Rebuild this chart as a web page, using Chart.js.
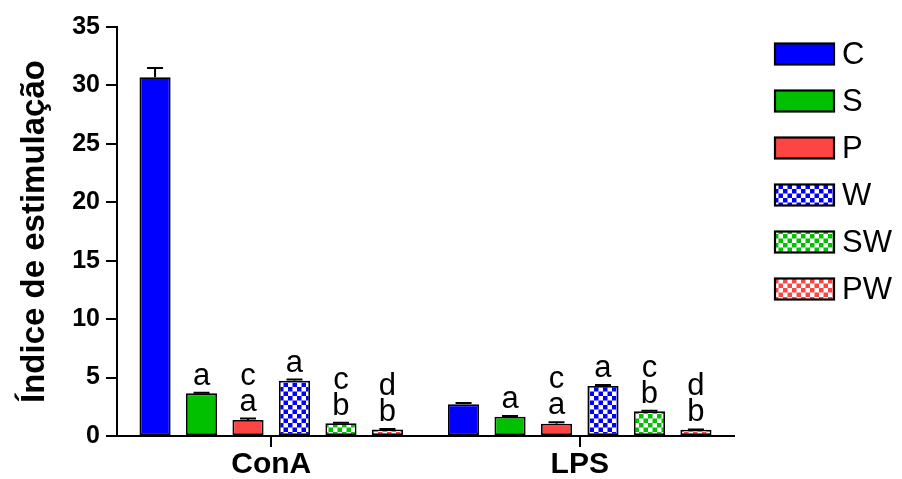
<!DOCTYPE html>
<html>
<head>
<meta charset="utf-8">
<script src="https://cdn.jsdelivr.net/npm/chart.js@4"></script>
<style>
  html, body { margin: 0; padding: 0; background: #fff; }
  #wrap { width: 902px; height: 479px; position: relative; }
</style>
</head>
<body>
<div id="wrap"><canvas id="chart"></canvas></div>
<script>
// Data
const groups = ["ConA", "LPS"];
const seriesNames = ["C", "S", "P", "W", "SW", "PW"];
const valuesC = [30.7, 2.71];
const valuesS = [3.65, 1.65];
const valuesP = [1.37, 1.05];
const valuesW = [4.73, 4.28];
const valuesSW = [1.09, 2.11];
const valuesPW = [0.56, 0.53];
const errC = [0.8, 0.12];
const errS = [0.05, 0.06];
const errP = [0.12, 0.13];
const errW = [0.1, 0.08];
const errSW = [0.04, 0.05];
const errPW = [0.03, 0.03];
// significance letters, top line first
const lettersC = [[], []];
const lettersS = [["a"], ["a"]];
const lettersP = [["c", "a"], ["c", "a"]];
const lettersW = [["a"], ["a"]];
const lettersSW = [["c", "b"], ["c", "b"]];
const lettersPW = [["d", "b"], ["d", "b"]];
const yTicks = [0, 5, 10, 15, 20, 25, 30, 35];

const FONT = "'Liberation Sans', Arial, Helvetica, sans-serif";
const BLUE = "#0000ff", GREEN = "#00c000", RED = "#ff4444";

// checkerboard fill
function checker(color) {
  const c = document.createElement("canvas");
  c.width = 9; c.height = 9;
  const g = c.getContext("2d");
  g.fillStyle = "#fff";
  g.fillRect(0, 0, 9, 9);
  g.fillStyle = color;
  g.fillRect(0, 0, 4.5, 4.5);
  g.fillRect(4.5, 4.5, 4.5, 4.5);
  return g.createPattern(c, "repeat");
}

const fills = [BLUE, GREEN, RED, checker(BLUE), checker(GREEN), checker(RED)];
const allValues = [valuesC, valuesS, valuesP, valuesW, valuesSW, valuesPW];
const allErrors = [errC, errS, errP, errW, errSW, errPW];
const allLetters = [lettersC, lettersS, lettersP, lettersW, lettersSW, lettersPW];

const datasets = seriesNames.map((name, i) => ({
  label: name,
  data: allValues[i],
  errors: allErrors[i],
  letters: allLetters[i],
  backgroundColor: fills[i],
  borderColor: "#000",
  borderWidth: 1.8,
  borderSkipped: false,
  categoryPercentage: 0.904,
  barPercentage: 0.67
}));

// ===== PLUGINS ===== //
const errorBars = {
  id: "errorBars",
  afterDatasetsDraw(chart) {
    const ctx = chart.ctx;
    const y = chart.scales.y;
    ctx.save();
    ctx.strokeStyle = "#000";
    ctx.lineWidth = 2;
    chart.data.datasets.forEach((ds, i) => {
      chart.getDatasetMeta(i).data.forEach((bar, j) => {
        const top = y.getPixelForValue(ds.data[j] + ds.errors[j]);
        ctx.beginPath();
        ctx.moveTo(bar.x, bar.y);
        ctx.lineTo(bar.x, top);
        ctx.moveTo(bar.x - 8, top);
        ctx.lineTo(bar.x + 8, top);
        ctx.stroke();
      });
    });
    ctx.restore();
  }
};

const letterLabels = {
  id: "letterLabels",
  afterDatasetsDraw(chart) {
    const ctx = chart.ctx;
    const y = chart.scales.y;
    ctx.save();
    ctx.fillStyle = "#000";
    ctx.font = "31px " + FONT;
    ctx.textAlign = "center";
    ctx.textBaseline = "alphabetic";
    chart.data.datasets.forEach((ds, i) => {
      chart.getDatasetMeta(i).data.forEach((bar, j) => {
        const lines = ds.letters[j];
        const top = y.getPixelForValue(ds.data[j] + ds.errors[j]);
        for (let k = 0; k < lines.length; k++) {
          const fromBottom = lines.length - 1 - k;
          ctx.fillText(lines[k], bar.x, top - 8 - fromBottom * 26);
        }
      });
    });
    ctx.restore();
  }
};

const sideLegend = {
  id: "sideLegend",
  afterDraw(chart) {
    const ctx = chart.ctx;
    ctx.save();
    ctx.font = "31px " + FONT;
    ctx.textBaseline = "middle";
    ctx.textAlign = "left";
    chart.data.datasets.forEach((ds, i) => {
      const cy = 54 + i * 47;
      ctx.fillStyle = ds.backgroundColor;
      ctx.fillRect(775, cy - 10.5, 59, 21);
      ctx.strokeStyle = "#000";
      ctx.lineWidth = 2.2;
      ctx.strokeRect(775, cy - 10.5, 59, 21);
      ctx.fillStyle = "#000";
      ctx.fillText(ds.label, 842, cy + 1);
    });
    ctx.restore();
  }
};

// ===== CHART ===== //
new Chart(document.getElementById("chart"), {
  type: "bar",
  data: { labels: groups, datasets },
  options: {
    responsive: true,
    maintainAspectRatio: false,
    animation: false,
    layout: { padding: { left: 0, right: 168, top: 27, bottom: 0 } },
    plugins: {
      legend: { display: false },
      tooltip: { enabled: false }
    },
    scales: {
      x: {
        afterFit: s => { s.height = 43; },
        grid: {
          display: true, offset: false, drawOnChartArea: false,
          drawTicks: true, tickLength: 11, color: "#000", lineWidth: 2
        },
        border: { display: true, color: "#000", width: 2 },
        ticks: {
          color: "#000", padding: 3,
          font: { family: FONT, size: 30, weight: "bold", lineHeight: 1 }
        }
      },
      y: {
        min: 0, max: 35,
        afterFit: s => { s.width = 117; },
        afterBuildTicks: s => { s.ticks = yTicks.map(v => ({ value: v })); },
        grid: {
          display: true, drawOnChartArea: false, drawTicks: true,
          tickLength: 11, color: "#000", lineWidth: 2
        },
        border: { display: true, color: "#000", width: 2 },
        ticks: {
          color: "#000", padding: 6,
          font: { family: FONT, size: 25, weight: "bold" }
        },
        title: {
          display: true,
          text: "Índice de estimulação",
          color: "#000",
          padding: { top: 15, bottom: 0 },
          font: { family: FONT, size: 33, weight: "bold" }
        }
      }
    }
  },
  plugins: [errorBars, letterLabels, sideLegend]
});
</script>
</body>
</html>
